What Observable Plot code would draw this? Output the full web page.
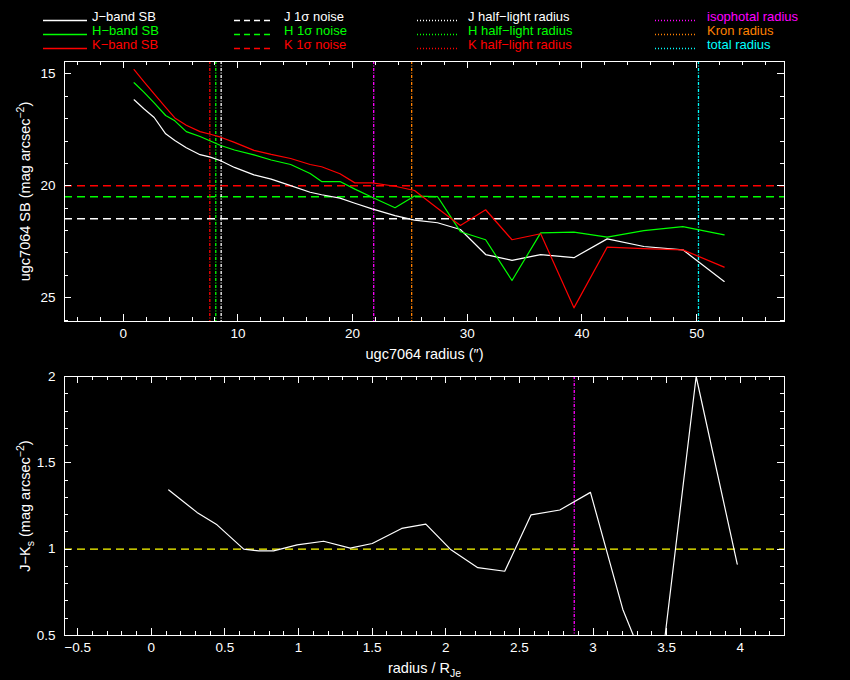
<!DOCTYPE html>
<html>
<head>
<meta charset="utf-8">
<script src="https://cdn.jsdelivr.net/npm/d3@7"></script>
<script src="https://cdn.jsdelivr.net/npm/@observablehq/plot@0.6"></script>
<style>
  html, body { margin: 0; padding: 0; background: #000; }
  #wrap { width: 850px; height: 680px; background: #000; overflow: hidden; font-family: "Liberation Sans", sans-serif; }
  #wrap svg { display: block; }
</style>
</head>
<body>
<div id="wrap"><div id="legend"></div><div id="top"></div><div id="bot"></div></div>
<script>
// ---------- data: top panel (surface brightness profiles) ----------
const radius = [0.95, 1.8, 2.7, 3.7, 4.5, 5.5, 6.7, 7.6, 8.5, 9.7, 11.4, 12.9, 14.6, 16.3, 17.3, 18.9, 20.2, 21.7, 23.7, 25.4, 27.4, 29.4, 31.6, 33.9, 36.4, 39.3, 42.2, 45.4, 48.8, 52.4];
const sbJ = [16.16, 16.56, 16.95, 17.68, 17.98, 18.30, 18.61, 18.72, 18.88, 19.18, 19.51, 19.70, 19.99, 20.29, 20.40, 20.55, 20.78, 21.03, 21.33, 21.53, 21.65, 21.95, 23.07, 23.33, 23.07, 23.21, 22.37, 22.71, 22.86, 24.27];
const sbH = [15.40, 15.82, 16.30, 16.86, 17.10, 17.58, 17.80, 18.00, 18.20, 18.40, 18.62, 18.85, 19.05, 19.45, 19.81, 19.81, 20.15, 20.51, 20.98, 20.46, 20.48, 22.05, 22.41, 24.23, 22.10, 22.07, 22.29, 22.00, 21.82, 22.19];
const sbK = [14.81, 15.35, 15.90, 16.50, 16.97, 17.30, 17.58, 17.70, 17.83, 18.06, 18.42, 18.60, 18.78, 19.05, 19.15, 19.46, 19.87, 19.87, 20.02, 20.21, 21.00, 21.77, 21.07, 22.41, 22.14, 25.45, 22.74, 22.81, 22.86, 23.63];
const noiseLevels = [21.47, 20.49, 20.00];          // J, H, K 1-sigma noise
const halfLightRadii = [8.54, 8.07, 7.55];          // J, H, K
const isoRadius = 21.84, kronRadius = 25.15, totalRadius = 50.16;
const topXDomain = [-5.12, 57.66];
const topYDomain = [14.45, 26.06];
const topXMajor = [0, 10, 20, 30, 40, 50];
const topYMajor = [15, 20, 25];

// ---------- data: bottom panel (J-Ks colour profile) ----------
const ratioRadius = [0.118, 0.31, 0.446, 0.627, 0.73, 0.83, 0.99, 1.17, 1.35, 1.50, 1.70, 1.864, 2.03, 2.217, 2.40, 2.579, 2.774, 2.982, 3.202, 3.44, 3.70, 3.979];
const colourJK = [1.343, 1.213, 1.141, 1.0, 0.99, 0.99, 1.025, 1.046, 1.006, 1.033, 1.12, 1.145, 1.0, 0.893, 0.872, 1.199, 1.227, 1.329, 0.651, 0.15, 2.0, 0.913];
const colourRef = 1.0;
const isoRadiusRatio = 2.872;
const botXDomain = [-0.59, 4.30];
const botYDomain = [0.5, 2.0];
const botXMajor = [-0.5, 0, 0.5, 1, 1.5, 2, 2.5, 3, 3.5, 4];
const botYMajor = [0.5, 1, 1.5, 2];

// ---------- styling ----------
const WHITE = "#ffffff", GREEN = "#00ff00", RED = "#ff0000", MAGENTA = "#ff00ff", ORANGE = "#ff8000", CYAN = "#00ffff", YELLOW = "#ffff00";
const DASH = "8,5";
const DOT = "3,1.5,1,1.5";
const fmt = d => (d < 0 ? "\u2212" : "") + Math.abs(d);
const crisp = {shapeRendering: "crispEdges"};
const dashed = c => ({stroke: c, strokeDasharray: DASH, strokeWidth: 1.4});
const dotted = c => ({stroke: c, strokeDasharray: DOT, strokeWidth: 1.3});

// ---------- legend ----------
const legendItems = [
  {col: 0, row: 0, label: "J\u2212band SB", color: WHITE, dash: null},
  {col: 0, row: 1, label: "H\u2212band SB", color: GREEN, dash: null},
  {col: 0, row: 2, label: "K\u2212band SB", color: RED, dash: null},
  {col: 1, row: 0, label: "J 1\u03c3 noise", color: WHITE, dash: "6,4"},
  {col: 1, row: 1, label: "H 1\u03c3 noise", color: GREEN, dash: "6,4"},
  {col: 1, row: 2, label: "K 1\u03c3 noise", color: RED, dash: "6,4"},
  {col: 2, row: 0, label: "J half\u2212light radius", color: WHITE, dash: "1,2"},
  {col: 2, row: 1, label: "H half\u2212light radius", color: GREEN, dash: "1,2"},
  {col: 2, row: 2, label: "K half\u2212light radius", color: RED, dash: "1,2"},
  {col: 3, row: 0, label: "isophotal radius", color: MAGENTA, dash: "1,2"},
  {col: 3, row: 1, label: "Kron radius", color: ORANGE, dash: "1,2"},
  {col: 3, row: 2, label: "total radius", color: CYAN, dash: "1,2"}
];
const colLine = [[43, 87], [234, 272], [417, 458], [655, 697]];
const colText = [92, 284, 468, 707];
const rowBase = [21, 35, 49];
{
  const svg = d3.create("svg").attr("width", 850).attr("height", 55)
    .style("background", "#000").style("font-family", "'Liberation Sans', sans-serif");
  for (const it of legendItems) {
    const y = rowBase[it.row] - 0.5;
    svg.append("line").attr("x1", colLine[it.col][0]).attr("x2", colLine[it.col][1])
      .attr("y1", y).attr("y2", y).attr("stroke", it.color).attr("stroke-width", 1.3)
      .attr("stroke-dasharray", it.dash);
    svg.append("text").attr("x", colText[it.col]).attr("y", rowBase[it.row])
      .attr("fill", it.color).attr("font-size", 13).text(it.label);
  }
  document.getElementById("legend").append(svg.node());
}

// inward-pointing ticks on all four sides of the frame
function frameTicks(plotW, plotH, xMinor, xMajor, yMinor, yMajor) {
  const out = [];
  for (const [vals, len] of [[xMinor, 4], [xMajor, 7]]) {
    out.push(Plot.tickX(vals, {x: d => d, stroke: WHITE, insetTop: plotH - len, ...crisp}));
    out.push(Plot.tickX(vals, {x: d => d, stroke: WHITE, insetBottom: plotH - len, ...crisp}));
  }
  for (const [vals, len] of [[yMinor, 4], [yMajor, 7]]) {
    out.push(Plot.tickY(vals, {y: d => d, stroke: WHITE, insetRight: plotW - len, ...crisp}));
    out.push(Plot.tickY(vals, {y: d => d, stroke: WHITE, insetLeft: plotW - len, ...crisp}));
  }
  return out;
}

function richLabel(svg, aria, parts) {
  const t = d3.select(svg).select(`g[aria-label="${aria}"] text`);
  if (t.empty()) return;
  t.text(null).attr("font-size", 14.5);
  for (const [s, kind] of parts) {
    const ts = t.append("tspan").text(s);
    if (kind === "sup") ts.attr("dy", -6).attr("font-size", 10.5);
    else if (kind === "sub") ts.attr("dy", 4).attr("font-size", 10.5);
    else if (kind === "supEnd") ts.attr("dy", 6);
    else if (kind === "subEnd") ts.attr("dy", -4);
  }
}

const W = 850, ML = 64, MR = 66;
const plotW = W - ML - MR;

// ---------- top panel ----------
const bands = [
  {name: "J", sb: sbJ, color: WHITE},
  {name: "H", sb: sbH, color: GREEN},
  {name: "K", sb: sbK, color: RED}
];
const topH = 310, topMT = 6, topMB = 44;
const topSvg = Plot.plot({
  width: W, height: topH,
  marginTop: topMT, marginBottom: topMB, marginLeft: ML, marginRight: MR,
  style: {background: "#000", color: WHITE, fontFamily: "'Liberation Sans', sans-serif", fontSize: "13.5px"},
  x: {domain: topXDomain},
  y: {domain: topYDomain, reverse: true},
  marks: [
    ...bands.map((b, i) => Plot.ruleY([noiseLevels[i]], dashed(b.color))),
    ...bands.map((b, i) => Plot.ruleX([halfLightRadii[i]], dotted(b.color))),
    Plot.ruleX([isoRadius], dotted(MAGENTA)),
    Plot.ruleX([kronRadius], dotted(ORANGE)),
    Plot.ruleX([totalRadius], dotted(CYAN)),
    ...bands.map(b => Plot.line(radius.map((r, i) => ({r, v: b.sb[i]})), {x: "r", y: "v", stroke: b.color, strokeWidth: 1.2})),
    ...frameTicks(plotW, topH - topMT - topMB, d3.range(-4, 58, 2), topXMajor, d3.range(15, 27, 1), topYMajor),
    Plot.frame({stroke: WHITE, ...crisp}),
    Plot.axisX(topXMajor, {anchor: "bottom", tickSize: 0, tickPadding: 7, tickFormat: fmt, fill: WHITE,
      label: "ugc7064 radius (\")", labelAnchor: "center", labelOffset: 37, labelArrow: "none"}),
    Plot.axisY(topYMajor, {anchor: "left", tickSize: 0, tickPadding: 9, tickFormat: fmt, fill: WHITE,
      label: "ugc7064 SB (mag arcsec-2)", labelAnchor: "center", labelOffset: 45, labelArrow: "none"})
  ]
});
richLabel(topSvg, "y-axis label", [["ugc7064 SB (mag arcsec"], ["\u22122", "sup"], [")", "supEnd"]]);
richLabel(topSvg, "x-axis label", [["ugc7064 radius (\u2033)"]]);
document.getElementById("top").append(topSvg);

// ---------- bottom panel ----------
const botH = 315, botMT = 11, botMB = 45;
const botSvg = Plot.plot({
  width: W, height: botH,
  marginTop: botMT, marginBottom: botMB, marginLeft: ML, marginRight: MR,
  style: {background: "#000", color: WHITE, fontFamily: "'Liberation Sans', sans-serif", fontSize: "13.5px"},
  x: {domain: botXDomain},
  y: {domain: botYDomain},
  marks: [
    Plot.ruleY([colourRef], dashed(YELLOW)),
    Plot.ruleX([isoRadiusRatio], dotted(MAGENTA)),
    Plot.line(ratioRadius.map((r, i) => ({r, c: colourJK[i]})), {x: "r", y: "c", stroke: WHITE, strokeWidth: 1.2, clip: true}),
    ...frameTicks(plotW, botH - botMT - botMB, d3.range(-5, 44).map(i => i / 10), botXMajor, d3.range(5, 21).map(i => i / 10), botYMajor),
    Plot.frame({stroke: WHITE, ...crisp}),
    Plot.axisX(botXMajor, {anchor: "bottom", tickSize: 0, tickPadding: 7, tickFormat: fmt, fill: WHITE,
      label: "radius / RJe", labelAnchor: "center", labelOffset: 37, labelArrow: "none"}),
    Plot.axisY(botYMajor, {anchor: "left", tickSize: 0, tickPadding: 9, tickFormat: fmt, fill: WHITE,
      label: "J-Ks (mag arcsec-2)", labelAnchor: "center", labelOffset: 45, labelArrow: "none"})
  ]
});
richLabel(botSvg, "y-axis label", [["J\u2212K"], ["s", "sub"], [" (mag arcsec", "subEnd"], ["\u22122", "sup"], [")", "supEnd"]]);
richLabel(botSvg, "x-axis label", [["radius / R"], ["Je", "sub"]]);
document.getElementById("bot").append(botSvg);
</script>
</body>
</html>
